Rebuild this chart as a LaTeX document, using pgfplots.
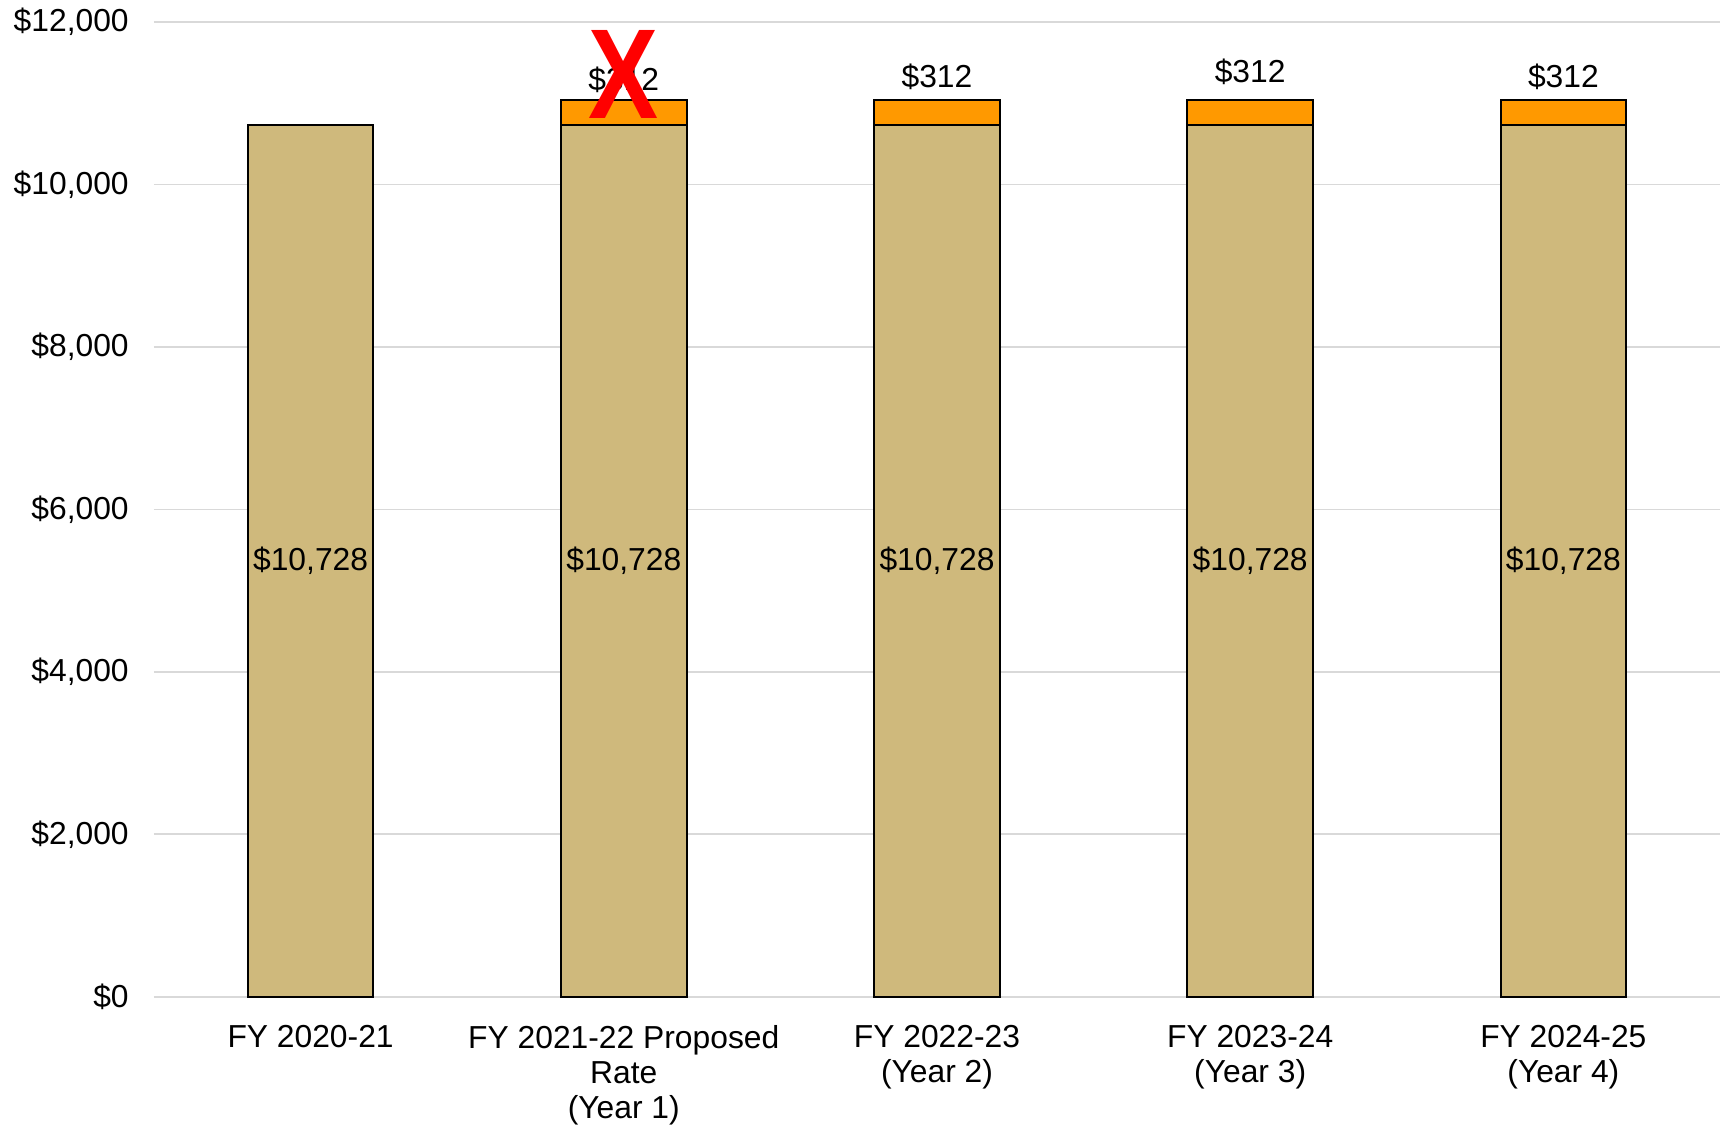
\documentclass[border=0pt]{standalone}
\usepackage{pgfplots}
\pgfplotsset{compat=1.18}
\usepackage{fontspec}
\setmainfont{Liberation Sans}
\definecolor{tanbar}{HTML}{CFB97C}
\definecolor{orng}{HTML}{FF9900}
\definecolor{grd}{HTML}{D9D9D9}
\newcommand{\lab}{\fontsize{7.95}{8.8}\selectfont}
\begin{document}
\begin{tikzpicture}
\path[use as bounding box] (-38.5pt,-32.8pt) rectangle (393.25pt,249.2pt);
\begin{axis}[
  at={(0pt,0pt)}, anchor=south west,
  scale only axis, width=391.5pt, height=243.7pt,
  ybar stacked, bar width=31.4pt,
  xmin=-0.5, xmax=4.5, ymin=0, ymax=12000,
  clip=false,
  axis x line=bottom, axis y line=left,
  axis line style={draw=none},
  x axis line style={draw=grd, line width=0.45pt, -},
  ymajorgrids, major grid style={draw=grd, line width=0.45pt},
  tick style={draw=none},
  xtick={0,1,2,3,4},
  xticklabels={FY 2020-21, {FY 2021-22 Proposed\\Rate\\(Year 1)}, {FY 2022-23\\(Year 2)}, {FY 2023-24\\(Year 3)}, {FY 2024-25\\(Year 4)}},
  ytick={0,2000,4000,6000,8000,10000,12000},
  yticklabels={{\$0},{\$2,000},{\$4,000},{\$6,000},{\$8,000},{\$10,000},{\$12,000}},
  yticklabel style={font=\lab, inner sep=0pt, xshift=-4pt},
  xticklabel style={font=\lab, align=center, inner sep=0pt, anchor=north, yshift=-4.8pt},
]
\addplot[fill=tanbar, draw=black, line width=0.5pt] coordinates {(0,10728) (1,10728) (2,10728) (3,10728) (4,10728)};
\addplot[fill=orng, draw=black, line width=0.5pt] coordinates {(0,0) (1,312) (2,312) (3,312) (4,312)};
\pgfplotsinvokeforeach{0,...,4}{\coordinate (m#1) at (axis cs:#1,5364);}
\coordinate (t1) at (axis cs:1,11040);
\coordinate (t2) at (axis cs:2,11040);
\coordinate (t3) at (axis cs:3,11040);
\coordinate (t4) at (axis cs:4,11040);
\coordinate (rx) at (axis cs:1,11360);
\end{axis}
\foreach \i in {0,...,4} {\node[font=\lab, inner sep=0pt] at (m\i) {\$10,728};}
\node[font=\lab, inner sep=0pt, yshift=5pt] at (t1) {\$312};
\node[font=\lab, inner sep=0pt, yshift=5.7pt] at (t2) {\$312};
\node[font=\lab, inner sep=0pt, yshift=7pt] at (t3) {\$312};
\node[font=\lab, inner sep=0pt, yshift=5.8pt] at (t4) {\$312};
\node[text=red, font=\fontsize{32}{32}\selectfont\bfseries, xscale=0.82, inner sep=0pt] at (rx) {X};
\end{tikzpicture}
\end{document}
